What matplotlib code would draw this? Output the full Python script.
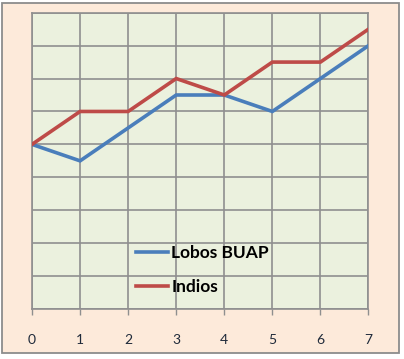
import matplotlib
matplotlib.use("Agg")
import matplotlib.pyplot as plt
from matplotlib.patches import Rectangle

# jornadas y puntos
jornadas = [0, 1, 2, 3, 4, 5, 6, 7]
lobos_buap = [10, 9, 11, 13, 13, 12, 14, 16]
indios = [10, 12, 12, 14, 13, 15, 15, 17]
labels = ["Lobos BUAP", "Indios"]

grid_color = "#8f8f8f"

fig = plt.figure(figsize=(4.04, 3.59), dpi=100)
fig.patch.set_facecolor("white")

# chart area (peach) with gray frame
fig.patches.append(Rectangle((1.5 / 404, 1 - 353 / 359), 397 / 404, 350 / 359,
                             transform=fig.transFigure, facecolor="#FDEADA",
                             edgecolor="#8c8c8c", linewidth=1.3, zorder=-5))

ax = fig.add_axes([32 / 404, 50 / 359, 336.5 / 404, 296.3 / 359])
ax.set_facecolor("#EBF1DE")

ax.plot(jornadas, lobos_buap, color="#4A7EBB", linewidth=2.6, label=labels[0],
        solid_joinstyle="miter", zorder=3)
ax.plot(jornadas, indios, color="#BE4B48", linewidth=2.6, label=labels[1],
        solid_joinstyle="miter", zorder=3)

ax.set_xlim(0, 7)
ax.set_ylim(0, 18)
ax.set_xticks(jornadas)
ax.set_yticks(range(0, 19, 2))
ax.set_yticklabels([])
ax.tick_params(axis="y", length=0)
ax.tick_params(axis="x", length=4, width=1, color=grid_color, pad=14,
               labelsize=10, labelcolor="#1f2a3a")
for lbl in ax.get_xticklabels():
    lbl.set_fontfamily("Lato")

ax.grid(True, color=grid_color, linewidth=1.2)
ax.set_axisbelow(True)
for sp in ax.spines.values():
    sp.set_color(grid_color)
    sp.set_linewidth(1.2)

leg = ax.legend(loc="upper left", bbox_to_anchor=(0.262, 0.268), frameon=False,
                handlelength=1.85, handletextpad=0.2, labelspacing=1.0,
                prop={"family": "Lato", "weight": "bold", "size": 12.5})
for h in leg.get_lines():
    h.set_linewidth(2.6)

fig.savefig("out.png", dpi=100, facecolor=fig.get_facecolor())
